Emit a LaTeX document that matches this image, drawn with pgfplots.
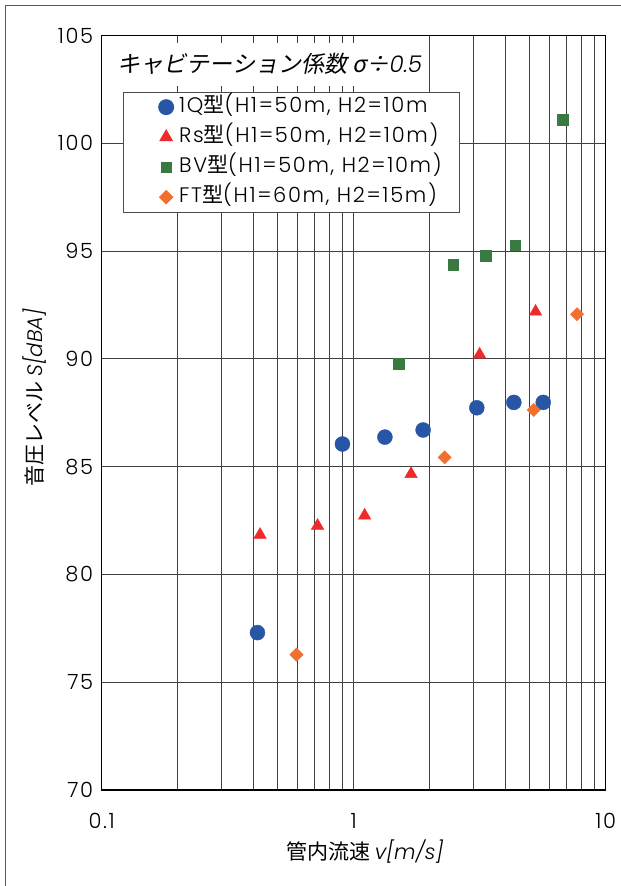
\documentclass[border=0pt]{standalone}
\usepackage{pgfplots}
\pgfplotsset{compat=1.18}
\usepackage{fontspec}
\setmainfont{Noto Sans CJK JP}
\newfontfamily\jpit{Noto Sans CJK JP}[FakeSlant=0.2]
\IfFontExistsTF{Poppins Light}
  {\newfontfamily\lat{Poppins Light}[ItalicFont={Poppins Light Italic}]
   \newfontfamily\latw{Poppins Light}[LetterSpace=8]}
  {\newfontfamily\lat{Poppins}\newfontfamily\latw{Poppins}[LetterSpace=8]}
\definecolor{cblue}{HTML}{2856A6}
\definecolor{cred}{HTML}{EE2A2A}
\definecolor{cgreen}{HTML}{3A7A42}
\definecolor{corange}{HTML}{F07030}
\begin{document}
\begin{tikzpicture}[x=1pt,y=1pt]
\useasboundingbox (0,0) rectangle (621,886);
\draw[line width=1.5pt, black!65] (5.5,0) -- (5.5,880.5) -- (621,880.5);
\begin{axis}[
  at={(101.7pt,96pt)}, anchor=south west,
  scale only axis, width=504pt, height=754.5pt,
  xmode=log, xmin=0.1, xmax=10, ymin=70, ymax=105,
  xtick={0.1,1,10}, xticklabels={0.1,1,10},
  ytick={70,75,...,105},
  grid=both, xminorgrids=true, yminorgrids=false,
  major grid style={black!75, line width=0.9pt},
  minor grid style={black!75, line width=0.9pt},
  major tick length=0pt, minor tick length=0pt,
  axis line style={black, line width=1.2pt},
  /pgf/number format/assume math mode=true,
  tick label style={font=\latw\fontsize{21}{25}\selectfont},
  xticklabel style={yshift=-20pt},
  yticklabel style={xshift=-5pt},
  xlabel={管内流速 {\lat\itshape v[m/s]}},
  ylabel={音圧レベル {\lat\itshape S[dBA]}},
  label style={font=\fontsize{21}{25}\selectfont},
  xlabel style={at={(axis description cs:0.522,-0.082)}, anchor=center},
  ylabel style={at={(axis description cs:-0.133,0.52)}, anchor=center},
  legend cell align=left,
  legend style={at={(axis description cs:0.0417,0.9255)}, anchor=north west,
    draw=black!70, line width=0.9pt, fill=white, inner xsep=0pt, inner ysep=0pt,
    font=\fontsize{21}{25}\selectfont, row sep=0pt,
    nodes={text height=16pt, text depth=6pt, inner ysep=4pt, inner xsep=3pt}},
  legend image code/.code={\path[draw=none] (0pt,0pt) (53pt,0pt); \draw[#1] plot coordinates {(43pt,0pt)};},
]
\addplot[only marks, mark=*, mark size=7.5pt, cblue, mark options={fill=cblue, draw=cblue}] coordinates {
(0.415,77.30) (0.902,86.05) (1.33,86.37) (1.886,86.70) (3.08,87.73) (4.32,87.98) (5.65,87.98)};
\addlegendentry{{\latw 1Q}型{\latw (H1=50m, H2=10m}\hspace*{15pt}}
\addplot[only marks, mark=triangle*, mark size=7.2pt, cred, mark options={fill=cred, draw=cred}] coordinates {
(0.425,81.84) (0.719,82.26) (1.105,82.73) (1.689,84.66) (3.16,90.20) (5.27,92.19)};
\addlegendentry{{\latw Rs}型{\latw (H1=50m, H2=10m)}\hspace*{15pt}}
\addplot[only marks, mark=square*, mark size=5.2pt, cgreen, mark options={fill=cgreen, draw=cgreen}] coordinates {
(1.506,89.78) (2.48,94.37) (3.346,94.79) (4.38,95.27) (6.74,101.1)};
\addlegendentry{{\latw BV}型{\latw (H1=50m, H2=10m)}\hspace*{15pt}}
\addplot[only marks, mark=square*, mark size=4.7pt, corange, mark options={fill=corange, draw=corange, rotate=45}] coordinates {
(0.593,76.28) (2.296,85.43) (5.18,87.63) (7.70,92.07)};
\addlegendentry{{\latw FT}型{\latw (H1=60m, H2=15m)}\hspace*{15pt}}
\node[fill=white, anchor=west, inner xsep=0pt, inner ysep=0pt, minimum height=43pt, font=\fontsize{23}{27}\selectfont, xshift=1pt]
  at (axis description cs:0,0.962) {\hspace{15pt}\jpit キャビテーション係数 σ÷{\lat\itshape 0.5}\hspace{4pt}};
\end{axis}
\end{tikzpicture}
\end{document}
